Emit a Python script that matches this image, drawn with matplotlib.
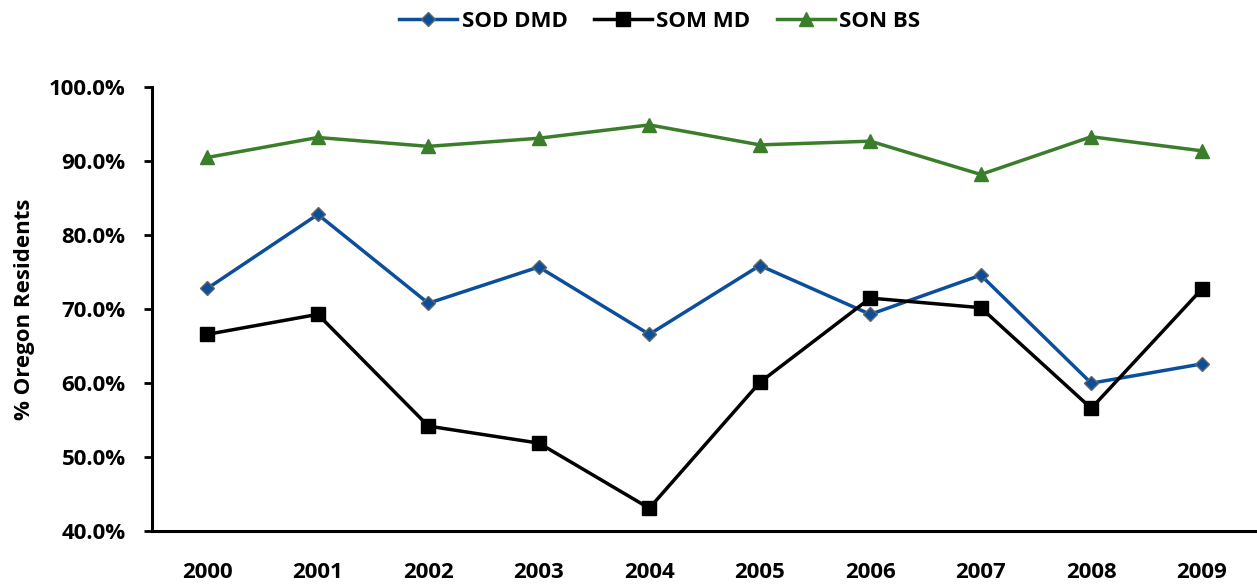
import numpy as np
import matplotlib.pyplot as plt
from matplotlib.ticker import PercentFormatter

plt.rcParams['font.family'] = ['Open Sans', 'DejaVu Sans']
plt.rcParams['font.weight'] = 'bold'

# data (percent)
years = ['2000', '2001', '2002', '2003', '2004', '2005', '2006', '2007', '2008', '2009']
sod_dmd = [72.8, 82.8, 70.8, 75.7, 66.6, 75.9, 69.3, 74.6, 60.0, 62.6]
som_md = [66.6, 69.3, 54.2, 51.9, 43.1, 60.1, 71.5, 70.2, 56.6, 72.7]
son_bs = [90.5, 93.2, 92.0, 93.1, 94.9, 92.2, 92.7, 88.2, 93.3, 91.4]

fig = plt.figure(figsize=(12.57, 5.85), dpi=100)
ax = fig.add_axes([0.121, 0.092, 0.879, 0.759])

x = np.arange(len(years))
ax.plot(x, sod_dmd, color='#0B4F9A', lw=2.5, marker='D', ms=7,
        markerfacecolor='#0B4F9A', markeredgecolor='#666666', markeredgewidth=1,
        label='SOD DMD')
ax.plot(x, som_md, color='black', lw=2.5, marker='s', ms=9.5, label='SOM MD')
ax.plot(x, son_bs, color='#3A7D2A', lw=2.5, marker='^', ms=10, label='SON BS')

ax.set_xlim(-0.5, len(years) - 0.5)
ax.set_ylim(40, 100)
ax.set_yticks(np.arange(40, 101, 10))
ax.yaxis.set_major_formatter(PercentFormatter(decimals=1))
ax.set_xticks(x)
ax.set_xticklabels(years)

for s in ['top', 'right']:
    ax.spines[s].set_visible(False)
for s in ['left', 'bottom']:
    ax.spines[s].set_linewidth(2.2)
    ax.spines[s].set_color('black')

ax.tick_params(axis='y', direction='out', length=6, width=2, labelsize=16, pad=13)
ax.tick_params(axis='x', length=0, labelsize=16, pad=22)
for lbl in ax.get_xticklabels() + ax.get_yticklabels():
    lbl.set_fontweight('bold')

ax.set_ylabel('% Oregon Residents', fontsize=16, fontweight='bold', labelpad=10)

fig.legend(loc='upper center', bbox_to_anchor=(0.525, 1.015), ncol=3, frameon=False,
           prop={'size': 16, 'weight': 'bold'}, handlelength=2.6, columnspacing=1.2,
           handletextpad=0.2)

plt.savefig('out.png', dpi=100)
